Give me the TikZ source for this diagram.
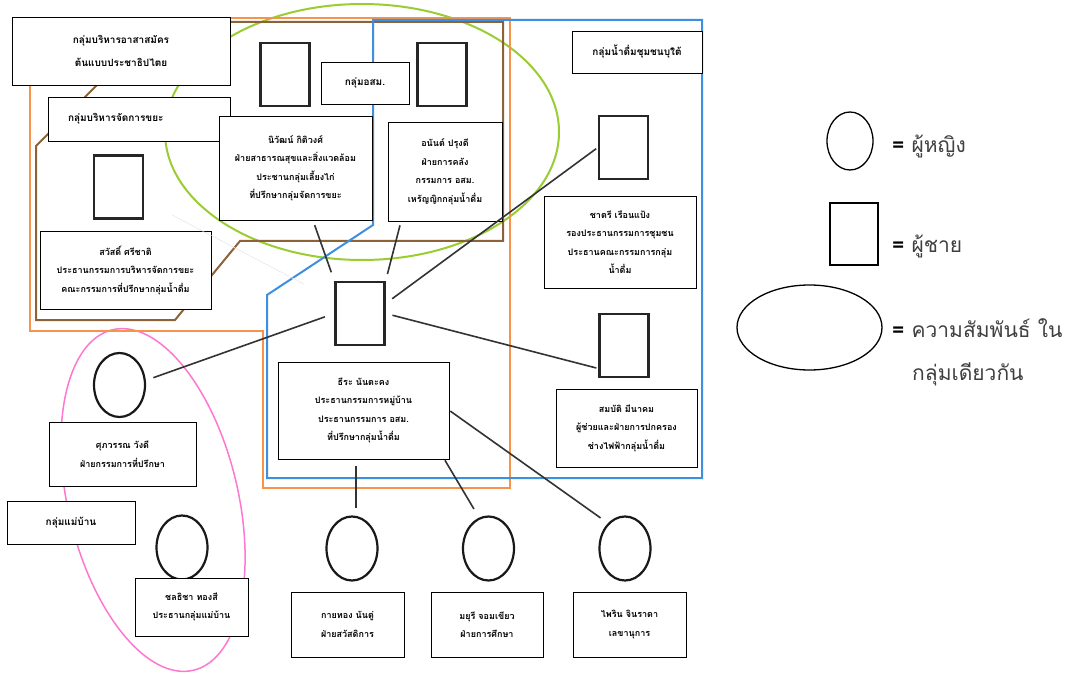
\documentclass[tikz,border=0pt]{standalone}
\usepackage{fontspec}
\newfontfamily\thai[Script=Thai]{Loma}
\usetikzlibrary{shapes.geometric,calc}
\definecolor{grpOrange}{HTML}{F7934A}
\definecolor{grpBrown}{HTML}{8C6239}
\definecolor{grpBlue}{HTML}{3D8FE0}
\definecolor{grpGreen}{HTML}{9ACD32}
\definecolor{grpPink}{HTML}{FF77D0}
\begin{document}
\begin{tikzpicture}[x=1pt,y=-1pt,
  pbox/.style={draw=black, fill=white, line width=0.9pt, inner sep=0pt, align=center,
    font=\thai\bfseries\fontsize{9}{18.5}\selectfont},
  gbox/.style={pbox, font=\thai\bfseries\fontsize{10}{23}\selectfont},
  man/.style={draw=black!85, fill=white, line width=2.4pt, minimum width=49pt, minimum height=63pt, inner sep=0pt},
  woman/.style={ellipse, draw=black!90, fill=white, line width=2.2pt, minimum width=51pt, minimum height=64pt, inner sep=0pt},
  link/.style={draw=black!80, line width=1.6pt},
  faint/.style={draw=black!10, line width=0.8pt, dash pattern=on 2pt off 1pt},
  grp/.style={line width=2pt},
  lgtext/.style={font=\thai\fontsize{21}{28}\selectfont, text=black!75, inner sep=0pt},
  lgshape/.style={draw=black, line width=1.3pt, inner sep=0pt},
]
\useasboundingbox[fill=white] (0,0) rectangle (1072,674);

% group outlines
\draw[grp, grpGreen] (362,132) ellipse [x radius=197, y radius=128];
\draw[grp, grpPink, line width=1.5pt, rotate around={13.4:(153,500)}] (153,500) ellipse [x radius=85, y radius=175];
\draw[grp, grpOrange] (30,18) -- (510,18) -- (510,488) -- (263,488) -- (263,331) -- (30,331) -- cycle;
\draw[grp, grpBrown] (503,22) -- (160,22) -- (36,146) -- (36,320) -- (175,320) -- (240,241) -- (503,241) -- cycle;
\draw[grp, grpBlue] (373,20) -- (702,20) -- (702,478) -- (267,478) -- (267,295) -- (373,225) -- cycle;

% group labels
\node[gbox, minimum width=218pt, minimum height=68pt] (g1) at (121,51) {กลุ่มบริหารอาสาสมัคร\\ต้นแบบประชาธิปไตย};
\node[gbox, minimum width=182pt, minimum height=44pt, text width=142pt, inner xsep=20pt, align=left] (g2) at (139,119) {กลุ่มบริหารจัดการขยะ};
\node[gbox, minimum width=88pt, minimum height=42pt] (g3) at (365,83) {กลุ่มอสม.};
\node[gbox, minimum width=130pt, minimum height=42pt] (g4) at (637,52) {กลุ่มน้ำดื่มชุมชนบุใต้};
\node[gbox, minimum width=128pt, minimum height=43pt] (g5) at (71,522.5) {กลุ่มแม่บ้าน};

% men
\node[man] (m1) at (285,74.5) {};
\node[man] (m2) at (442,74.5) {};
\node[man] (sawatM) at (118.5,187) {};
\node[man] (chatriM) at (623.5,147.5) {};
\node[man] (teeraM) at (360,313.5) {};
\node[man] (sombatM) at (624,345.5) {};

% women
\node[woman] (suphF) at (119.5,385) {};
\node[woman] (chonF) at (182,547.5) {};
\node[woman] (kaiF) at (352,548.5) {};
\node[woman] (mayuF) at (488.5,548.5) {};
\node[woman] (pairF) at (625,548.5) {};

% person boxes
\node[pbox, minimum width=153pt, minimum height=104pt] (nivat) at (295.5,168) {นิวัฒน์ กิติวงศ์\\ฝ่ายสาธารณสุขและสิ่งแวดล้อม\\ประชานกลุ่มเลี้ยงไก่\\ที่ปรึกษากลุ่มจัดการขยะ};
\node[pbox, minimum width=114pt, minimum height=99pt] (anan) at (445,171.5) {อนันต์ ปรุงดี\\ฝ่ายการคลัง\\กรรมการ อสม.\\เหรัญญิกกลุ่มน้ำดื่ม};
\node[pbox, minimum width=152pt, minimum height=92pt] (chatri) at (620,242) {ชาตรี เรือนแป้ง\\รองประธานกรรมการชุมชน\\ประธานคณะกรรมการกลุ่ม\\น้ำดื่ม};
\node[pbox, minimum width=171pt, minimum height=78pt] (sawat) at (125.5,270) {สวัสดิ์ ศรีชาติ\\ประธานกรรมการบริหารจัดการขยะ\\คณะกรรมการที่ปรึกษากลุ่มน้ำดื่ม};
\node[pbox, minimum width=171pt, minimum height=97pt] (teera) at (363.5,410.5) {ธีระ นันตะคง\\ประธานกรรมการหมู่บ้าน\\ประธานกรรมการ อสม.\\ที่ปรึกษากลุ่มน้ำดื่ม};
\node[pbox, minimum width=141pt, minimum height=78pt] (sombat) at (626.5,428) {สมบัติ มีนาคม\\ผู้ช่วยและฝ่ายการปกครอง\\ช่างไฟฟ้ากลุ่มน้ำดื่ม};
\node[pbox, minimum width=147pt, minimum height=64pt] (suph) at (122.5,454) {ศุภวรรณ วังดี\\ฝ่ายกรรมการที่ปรึกษา};
\node[pbox, minimum width=113pt, minimum height=58pt] (chon) at (191.5,607) {ชลธิชา ทองสี\\ประธานกลุ่มแม่บ้าน};
\node[pbox, minimum width=113pt, minimum height=65pt] (kai) at (347.5,624.5) {กายทอง นันตู่\\ฝ่ายสวัสดิการ};
\node[pbox, minimum width=112pt, minimum height=65pt] (mayu) at (487,624.5) {มยุรี จอมเขียว\\ฝ่ายการศึกษา};
\node[pbox, minimum width=113pt, minimum height=65pt] (pair) at (629.5,624.5) {ไพริน จินราดา\\เลขานุการ};

% connectors
\draw[faint, shorten <=32pt, shorten >=34pt] (sawatM) -- (teeraM);
\draw[link, shorten <=5pt, shorten >=9pt] ([xshift=17.5pt]nivat.south) -- (teeraM.north west);
\draw[link, shorten <=4pt, shorten >=7pt] ([xshift=-44pt]anan.south) -- (teeraM.north east);
\draw[link, shorten <=8pt, shorten >=2pt] ([yshift=10pt]teeraM.east) -- (chatriM.west);
\draw[link, shorten <=7pt, shorten >=2pt] (teeraM.east) -- ([yshift=-23pt]sombatM.west);
\draw[link, shorten <=10pt, shorten >=8pt] (teeraM.west) -- (suphF.10);
\draw[link, shorten <=7pt, shorten >=7pt] ([xshift=4pt]kaiF.north |- teera.south) -- ([xshift=4pt]kaiF.north);
\draw[link, shorten <=1pt, shorten >=10pt] ([xshift=-5pt]teera.south east) -- (mayuF.107);
\draw[link, shorten <=1pt, shorten >=9pt] (teera.east) -- (pairF.124);

% legend
\node[lgshape, ellipse, minimum width=46pt, minimum height=58pt] (lw) at (850,141) {};
\node[lgshape, minimum width=48pt, minimum height=62pt] (lm) at (854,234) {};
\node[lgshape, ellipse, minimum width=145pt, minimum height=85pt] (lg) at (809.5,327.5) {};
\node[lgtext, anchor=base west] (lt1) at (892,153) {\textcolor{black}{\bfseries =} ผู้หญิง};
\node[lgtext, anchor=base west] (lt2) at (892,252) {\textcolor{black}{\bfseries =} ผู้ชาย};
\node[lgtext, anchor=base west] (lt3) at (892,337) {\textcolor{black}{\bfseries =} ความสัมพันธ์ ใน};
\node[lgtext, anchor=base west] (lt4) at (912,380) {กลุ่มเดียวกัน};
\end{tikzpicture}
\end{document}
